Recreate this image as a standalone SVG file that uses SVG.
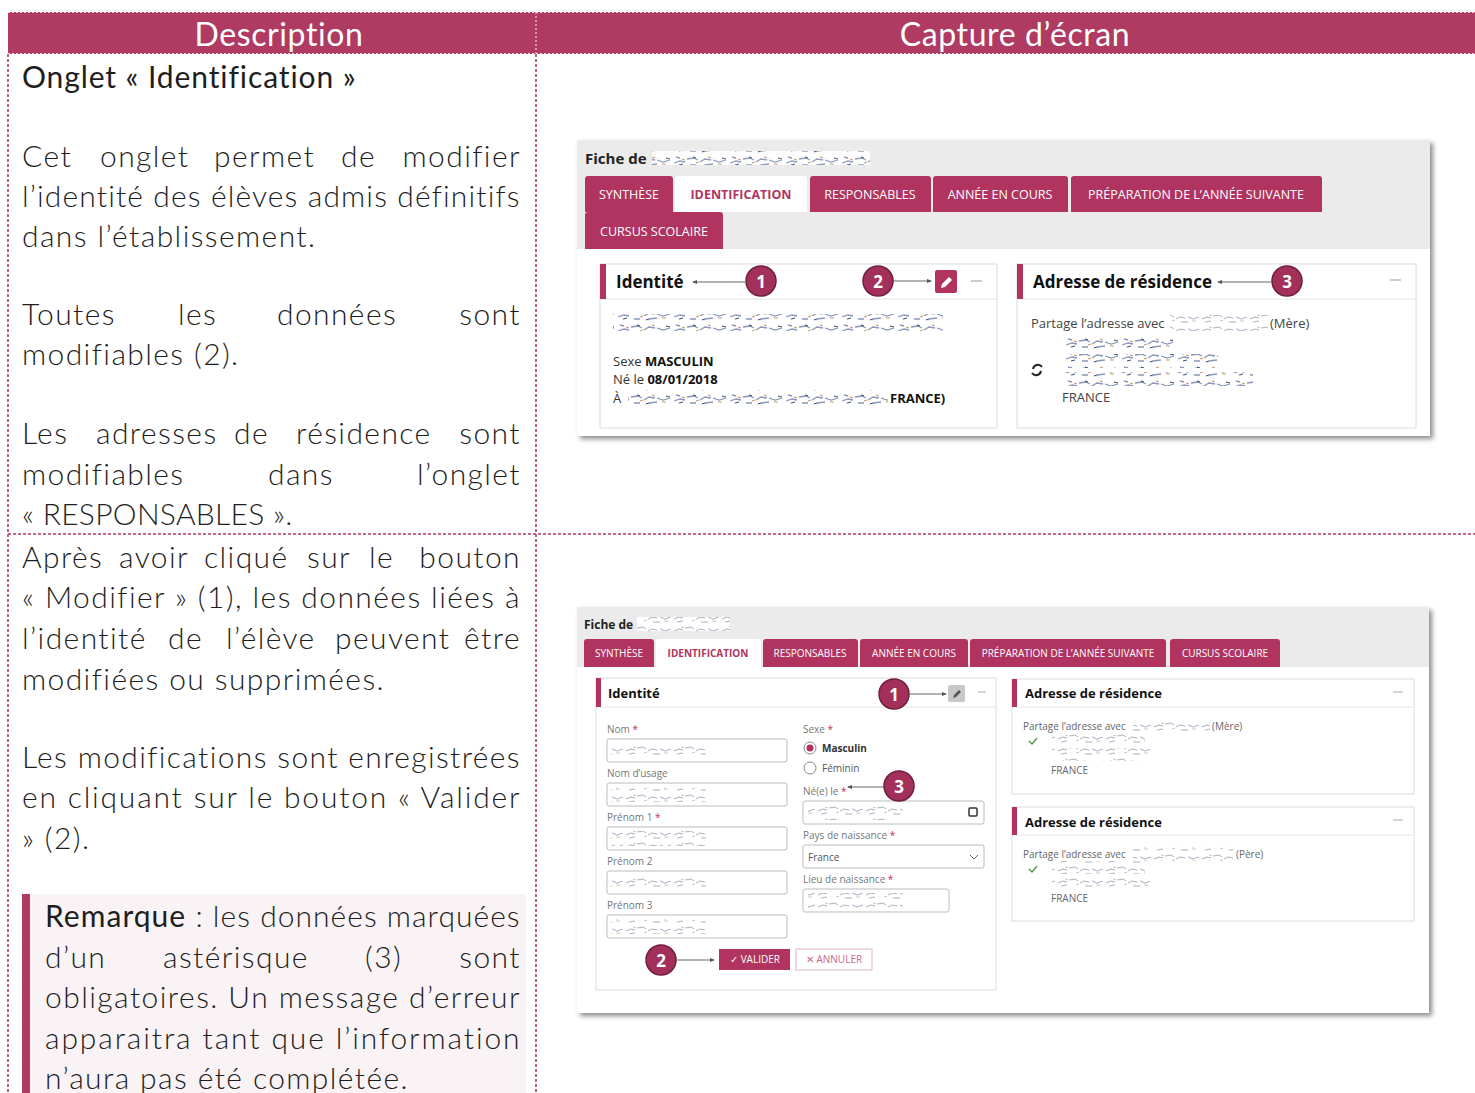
<svg xmlns="http://www.w3.org/2000/svg" width="1475" height="1093" viewBox="0 0 1475 1093">
<defs>
<style>
.desc{font-family:Lato,"Liberation Sans",sans-serif;font-weight:300;font-size:30px;fill:#1e1e1e;letter-spacing:1.4px}
.hdr{font-family:Lato,"Liberation Sans",sans-serif;font-size:32px;fill:#fff;letter-spacing:0.6px}
.ui{font-family:"Open Sans","Liberation Sans",sans-serif}
.tab{font-family:"Open Sans","Liberation Sans",sans-serif;font-size:12.5px;fill:#fff}
.tab2{font-family:"Open Sans","Liberation Sans",sans-serif;font-size:10px;fill:#fff}
.tabsel{fill:#b0345f;font-weight:bold}
.dash{stroke:#b03a64;stroke-width:1.6;stroke-dasharray:3 2;fill:none}
.card{fill:#fff;stroke:#dcdcdc;stroke-width:1}
.num{fill:#a3305a;stroke:#6f1f3d;stroke-width:1.5}
.numt{font-family:"Open Sans","Liberation Sans",sans-serif;font-weight:bold;fill:#fff;text-anchor:middle}
.conn{stroke:#666;stroke-width:1;fill:none}
.lbl{font-family:"Open Sans","Liberation Sans",sans-serif;font-size:10px;fill:#777}
.inp{fill:#fff;stroke:#bbb;stroke-width:1}
.ast{fill:#c0305a}
</style>
<marker id="ah" viewBox="0 0 6 6" refX="5" refY="3" markerWidth="5" markerHeight="5" orient="auto">
<path d="M0,0.5 L6,3 L0,5.5 Z" fill="#555"/>
</marker>
<pattern id="blur" width="56" height="14" patternUnits="userSpaceOnUse">
<rect width="56" height="14" fill="#fff"/>
<path d="M2,9 l6,-2 l5,1 M15,5 l7,-1 l4,2 M28,8 l5,-3 l6,1 M41,6 l6,2 l7,-2 M4,3 l4,1 M33,11 l8,-1 M18,11 l6,0" stroke="#8796b8" stroke-width="1.3" fill="none"/>
<path d="M10,5 l3,1 M24,9 l3,-1 M46,10 l4,0 M36,3 l3,1" stroke="#c99a6e" stroke-width="1.1" fill="none"/>
<path d="M7,11 l4,-1 M21,3 l3,1 M50,4 l4,1 M30,12 l3,-1" stroke="#3f4e72" stroke-width="1.1" fill="none"/>
</pattern>
<pattern id="blur2" width="48" height="12" patternUnits="userSpaceOnUse">
<rect width="48" height="12" fill="#fff"/>
<path d="M2,7 l5,-2 l4,1 M13,4 l6,-1 l3,2 M24,7 l4,-2 l5,1 M36,5 l5,2 l6,-2 M5,10 l6,-1 M29,10 l7,0" stroke="#a9b0c2" stroke-width="1" fill="none"/>
<path d="M9,3 l3,1 M20,9 l3,-1 M40,9 l4,0" stroke="#d2b9a0" stroke-width="0.9" fill="none"/>
</pattern>
<filter id="sh" x="-5%" y="-5%" width="110%" height="115%">
<feDropShadow dx="3" dy="3" stdDeviation="2.5" flood-color="#000" flood-opacity="0.45"/>
</filter>
</defs>

<rect width="1475" height="1093" fill="#fff"/>

<!-- table frame -->
<g id="table">
<rect x="8" y="12" width="1467" height="42" fill="#af3a62"/>
<line x1="8" y1="12.5" x2="1475" y2="12.5" stroke="#f0d6df" stroke-width="1.2" stroke-dasharray="2 2"/>
<line x1="8" y1="53.5" x2="1475" y2="53.5" stroke="#f0d6df" stroke-width="1.2" stroke-dasharray="2 2"/>
<line x1="536" y1="12" x2="536" y2="54" stroke="#f0d6df" stroke-width="1.2" stroke-dasharray="2 2"/>
<line class="dash" x1="8" y1="54" x2="8" y2="1093"/>
<line class="dash" x1="536" y1="54" x2="536" y2="1093"/>
<line class="dash" x1="8" y1="534" x2="1475" y2="534"/>
<text class="hdr" x="279" y="46" text-anchor="middle">Description</text>
<text class="hdr" x="1015" y="46" text-anchor="middle">Capture d’écran</text>
</g>

<!-- description row 1 -->
<g id="desc1" class="desc">
<text x="22" y="88" style="font-weight:400;letter-spacing:0.9px">Onglet « Identification »</text>
<text y="167"><tspan x="22">Cet</tspan><tspan x="100">onglet</tspan><tspan x="214">permet</tspan><tspan x="341">de</tspan><tspan x="521" text-anchor="end">modifier</tspan></text>
<text x="22" y="207" textLength="499" lengthAdjust="spacing">l’identité des élèves admis définitifs</text>
<text x="22" y="247">dans l’établissement.</text>
<text y="325"><tspan x="22">Toutes</tspan><tspan x="178">les</tspan><tspan x="277">données</tspan><tspan x="521" text-anchor="end">sont</tspan></text>
<text x="22" y="365">modifiables (2).</text>
<text y="444"><tspan x="22">Les</tspan><tspan x="96">adresses</tspan><tspan x="234">de</tspan><tspan x="296">résidence</tspan><tspan x="521" text-anchor="end">sont</tspan></text>
<text y="485"><tspan x="22">modifiables</tspan><tspan x="268">dans</tspan><tspan x="521" text-anchor="end">l’onglet</tspan></text>
<text x="22" y="525" style="letter-spacing:0.3px">« RESPONSABLES ».</text>
</g>

<!-- description row 2 -->
<g id="desc2" class="desc">
<text y="568"><tspan x="22">Après</tspan><tspan x="119">avoir</tspan><tspan x="204">cliqué</tspan><tspan x="307">sur</tspan><tspan x="369">le</tspan><tspan x="521" text-anchor="end">bouton</tspan></text>
<text x="22" y="608" textLength="499" lengthAdjust="spacing">« Modifier » (1), les données liées à</text>
<text y="649"><tspan x="22">l’identité</tspan><tspan x="168">de</tspan><tspan x="226">l’élève</tspan><tspan x="335">peuvent</tspan><tspan x="521" text-anchor="end">être</tspan></text>
<text x="22" y="690">modifiées ou supprimées.</text>
<text x="22" y="768" textLength="499" lengthAdjust="spacing">Les modifications sont enregistrées</text>
<text x="22" y="808" textLength="499" lengthAdjust="spacing">en cliquant sur le bouton « Valider</text>
<text x="22" y="849">» (2).</text>
</g>

<g id="remarque">
<rect x="30" y="894" width="496" height="199" fill="#f9f3f5"/>
<rect x="22" y="894" width="8" height="199" fill="#af3a62"/>
<g class="desc">
<text x="45" y="927" textLength="476" lengthAdjust="spacing"><tspan style="font-weight:400">Remarque</tspan> : les données marquées</text>
<text y="968"><tspan x="45">d’un</tspan><tspan x="163">astérisque</tspan><tspan x="365">(3)</tspan><tspan x="521" text-anchor="end">sont</tspan></text>
<text x="45" y="1008" textLength="476" lengthAdjust="spacing">obligatoires. Un message d’erreur</text>
<text x="45" y="1049" textLength="476" lengthAdjust="spacing">apparaitra tant que l’information</text>
<text x="45" y="1089">n’aura pas été complétée.</text>
</g>
</g>

<!-- screenshot 1 -->
<g id="shot1">
<rect x="577" y="140" width="853" height="296" fill="#ebebeb" filter="url(#sh)"/>
<rect x="577" y="249" width="853" height="187" fill="#fff"/>
<text class="ui" x="585" y="164" font-size="15" font-weight="bold" fill="#222">Fiche de</text>
<rect x="652" y="151" width="218" height="14" fill="url(#blur)" opacity="0.9"/>
<g id="tabs1">
<path d="M585,212 V179 Q585,176 588,176 H670 Q673,176 673,179 V212 Z" fill="#b0345f"/>
<path d="M675,212 V179 Q675,176 678,176 H804 Q807,176 807,179 V212 Z" fill="#fff"/>
<path d="M810,212 V179 Q810,176 813,176 H928 Q931,176 931,179 V212 Z" fill="#b0345f"/>
<path d="M933,212 V179 Q933,176 936,176 H1065 Q1068,176 1068,179 V212 Z" fill="#b0345f"/>
<path d="M1071,212 V179 Q1071,176 1074,176 H1319 Q1322,176 1322,179 V212 Z" fill="#b0345f"/>
<path d="M585,249 V215 Q585,212 588,212 H720 Q723,212 723,215 V249 Z" fill="#b0345f"/>
<text class="tab" x="629" y="199" text-anchor="middle">SYNTHÈSE</text>
<text class="tab tabsel" x="741" y="199" text-anchor="middle">IDENTIFICATION</text>
<text class="tab" x="870" y="199" text-anchor="middle">RESPONSABLES</text>
<text class="tab" x="1000" y="199" text-anchor="middle">ANNÉE EN COURS</text>
<text class="tab" x="1196" y="199" text-anchor="middle">PRÉPARATION DE L’ANNÉE SUIVANTE</text>
<text class="tab" x="654" y="236" text-anchor="middle">CURSUS SCOLAIRE</text>
</g>
<g id="card-identite1">
<rect class="card" x="600" y="264" width="397" height="164"/>
<line x1="600" y1="299" x2="997" y2="299" stroke="#e2e2e2"/>
<rect x="600" y="264" width="6" height="35" fill="#b0345f"/>
<text class="ui" x="616" y="288" font-size="17" font-weight="bold" fill="#111">Identité</text>
<rect x="935" y="270" width="22" height="23" rx="2" fill="#b0345f"/>
<path d="M941,288 l1,-4 l7,-7 l3,3 l-7,7 z" fill="#fff"/>
<line x1="971" y1="281" x2="982" y2="281" stroke="#aaa" stroke-width="1.2"/>
<rect x="613" y="314" width="330" height="17" fill="url(#blur)"/>
<text class="ui" x="613" y="366" font-size="13" fill="#333">Sexe <tspan font-weight="bold" fill="#111">MASCULIN</tspan></text>
<text class="ui" x="613" y="384" font-size="13" fill="#333">Né le <tspan font-weight="bold" fill="#111">08/01/2018</tspan></text>
<text class="ui" x="613" y="403" font-size="13" fill="#333">À</text>
<rect x="628" y="390" width="260" height="17" fill="url(#blur)"/>
<text class="ui" x="890" y="403" font-size="13" font-weight="bold" fill="#111">FRANCE)</text>
</g>
<g id="card-adresse1">
<rect class="card" x="1017" y="264" width="399" height="164"/>
<line x1="1017" y1="299" x2="1416" y2="299" stroke="#e2e2e2"/>
<rect x="1017" y="264" width="6" height="35" fill="#b0345f"/>
<text class="ui" x="1033" y="288" font-size="17" font-weight="bold" fill="#111">Adresse de résidence</text>
<line x1="1390" y1="280" x2="1401" y2="280" stroke="#aaa" stroke-width="1.2"/>
<text class="ui" x="1031" y="328" font-size="13" fill="#444">Partage l’adresse avec</text>
<rect x="1170" y="315" width="98" height="16" fill="url(#blur2)"/>
<text class="ui" x="1270" y="328" font-size="13" fill="#444">(Mère)</text>
<rect x="1063" y="336" width="110" height="14" fill="url(#blur)"/>
<rect x="1063" y="354" width="155" height="14" fill="url(#blur)"/>
<rect x="1063" y="372" width="190" height="14" fill="url(#blur)"/>
<path d="M1042,367 a5,5 0 0 0 -9,2" stroke="#222" stroke-width="2" fill="none"/>
<path d="M1032,373 a5,5 0 0 0 9,-2" stroke="#222" stroke-width="2" fill="none"/>
<text class="ui" x="1062" y="402" font-size="13" fill="#444">FRANCE</text>
</g>
</g>

<!-- screenshot 2 -->
<g id="shot2">
<rect x="577" y="607" width="852" height="406" fill="#ebebeb" filter="url(#sh)"/>
<rect x="577" y="667" width="852" height="346" fill="#fff"/>
<text class="ui" x="584" y="629" font-size="12" font-weight="bold" fill="#222">Fiche de</text>
<rect x="637" y="617" width="93" height="14" fill="url(#blur2)"/>
<g id="tabs2">
<path d="M584,667 V642 Q584,639 587,639 H651 Q654,639 654,642 V667 Z" fill="#b0345f"/>
<path d="M656,667 V642 Q656,639 659,639 H758 Q761,639 761,642 V667 Z" fill="#fff"/>
<path d="M763,667 V642 Q763,639 766,639 H855 Q858,639 858,642 V667 Z" fill="#b0345f"/>
<path d="M860,667 V642 Q860,639 863,639 H965 Q968,639 968,642 V667 Z" fill="#b0345f"/>
<path d="M970,667 V642 Q970,639 973,639 H1163 Q1166,639 1166,642 V667 Z" fill="#b0345f"/>
<path d="M1170,667 V642 Q1170,639 1173,639 H1277 Q1280,639 1280,642 V667 Z" fill="#b0345f"/>
<text class="tab2" x="619" y="657" text-anchor="middle">SYNTHÈSE</text>
<text class="tab2 tabsel" x="708" y="657" text-anchor="middle">IDENTIFICATION</text>
<text class="tab2" x="810" y="657" text-anchor="middle">RESPONSABLES</text>
<text class="tab2" x="914" y="657" text-anchor="middle">ANNÉE EN COURS</text>
<text class="tab2" x="1068" y="657" text-anchor="middle">PRÉPARATION DE L’ANNÉE SUIVANTE</text>
<text class="tab2" x="1225" y="657" text-anchor="middle">CURSUS SCOLAIRE</text>
</g>
<g id="card-identite2">
<rect class="card" x="596" y="678" width="400" height="312"/>
<line x1="596" y1="707" x2="996" y2="707" stroke="#e6e6e6"/>
<rect x="596" y="678" width="5" height="29" fill="#b0345f"/>
<text class="ui" x="608" y="698" font-size="13" font-weight="bold" fill="#111">Identité</text>
<rect x="948" y="685" width="17" height="17" rx="2" fill="#c8c8c8"/>
<path d="M953,698 l1,-3 l5,-5 l2,2 l-5,5 z" fill="#555"/>
<line x1="978" y1="692" x2="986" y2="692" stroke="#aaa"/>
<g class="lbl">
<text x="607" y="733">Nom <tspan class="ast">*</tspan></text>
<text x="607" y="777">Nom d’usage</text>
<text x="607" y="821">Prénom 1 <tspan class="ast">*</tspan></text>
<text x="607" y="865">Prénom 2</text>
<text x="607" y="909">Prénom 3</text>
<text x="803" y="733">Sexe <tspan class="ast">*</tspan></text>
<text x="803" y="795">Né(e) le <tspan class="ast">*</tspan></text>
<text x="803" y="839">Pays de naissance <tspan class="ast">*</tspan></text>
<text x="803" y="883">Lieu de naissance <tspan class="ast">*</tspan></text>
</g>
<rect class="inp" x="607" y="739" width="180" height="23" rx="2"/>
<rect class="inp" x="607" y="783" width="180" height="23" rx="2"/>
<rect class="inp" x="607" y="827" width="180" height="23" rx="2"/>
<rect class="inp" x="607" y="871" width="180" height="23" rx="2"/>
<rect class="inp" x="607" y="915" width="180" height="23" rx="2"/>
<rect x="611" y="743" width="95" height="15" fill="url(#blur2)"/>
<rect x="611" y="787" width="95" height="15" fill="url(#blur2)"/>
<rect x="611" y="831" width="95" height="15" fill="url(#blur2)"/>
<rect x="611" y="875" width="95" height="15" fill="url(#blur2)"/>
<rect x="611" y="919" width="95" height="15" fill="url(#blur2)"/>
<circle cx="810" cy="748" r="6" fill="#fff" stroke="#888"/>
<circle cx="810" cy="748" r="3.5" fill="#b0345f"/>
<text class="ui" x="822" y="752" font-size="10" font-weight="bold" fill="#333">Masculin</text>
<circle cx="810" cy="768" r="6" fill="#fff" stroke="#888"/>
<text class="ui" x="822" y="772" font-size="10" fill="#555">Féminin</text>
<rect class="inp" x="803" y="801" width="181" height="23" rx="2"/>
<rect x="808" y="805" width="95" height="15" fill="url(#blur2)"/>
<rect x="969" y="808" width="8" height="8" rx="1" fill="none" stroke="#333" stroke-width="1.5"/>
<rect class="inp" x="803" y="845" width="181" height="23" rx="2"/>
<text class="ui" x="808" y="861" font-size="10" fill="#555">France</text>
<path d="M970,855 l4,4 l4,-4" stroke="#666" fill="none"/>
<rect class="inp" x="803" y="889" width="146" height="23" rx="2"/>
<rect x="808" y="893" width="95" height="15" fill="url(#blur2)"/>
<rect x="719" y="949" width="71" height="21" fill="#b0345f"/>
<text class="ui" x="755" y="963" font-size="10" fill="#fff" text-anchor="middle">✓ VALIDER</text>
<rect x="796" y="949" width="76" height="21" fill="#fff" stroke="#e3b3c3"/>
<text class="ui" x="834" y="963" font-size="10" fill="#c56a88" text-anchor="middle">✕ ANNULER</text>
</g>
<g id="card-adresse2a">
<rect class="card" x="1012" y="679" width="402" height="115"/>
<line x1="1012" y1="707" x2="1414" y2="707" stroke="#e6e6e6"/>
<rect x="1012" y="679" width="5" height="28" fill="#b0345f"/>
<text class="ui" x="1025" y="698" font-size="13" font-weight="bold" fill="#111">Adresse de résidence</text>
<line x1="1393" y1="692" x2="1403" y2="692" stroke="#aaa"/>
<text class="ui" x="1023" y="730" font-size="10" fill="#666">Partage l’adresse avec</text>
<rect x="1133" y="719" width="77" height="14" fill="url(#blur2)"/>
<text class="ui" x="1212" y="730" font-size="10" fill="#666">(Mère)</text>
<path d="M1029,741 l3,3 l5,-6" stroke="#4a9a4a" stroke-width="1.3" fill="none"/>
<rect x="1052" y="733" width="93" height="13" fill="url(#blur2)"/>
<rect x="1052" y="748" width="98" height="13" fill="url(#blur2)"/>
<text class="ui" x="1051" y="774" font-size="10" fill="#666">FRANCE</text>
</g>
<g id="card-adresse2b">
<rect class="card" x="1012" y="807" width="402" height="114"/>
<line x1="1012" y1="835" x2="1414" y2="835" stroke="#e6e6e6"/>
<rect x="1012" y="807" width="5" height="28" fill="#b0345f"/>
<text class="ui" x="1025" y="827" font-size="13" font-weight="bold" fill="#111">Adresse de résidence</text>
<line x1="1393" y1="820" x2="1403" y2="820" stroke="#aaa"/>
<text class="ui" x="1023" y="858" font-size="10" fill="#666">Partage l’adresse avec</text>
<rect x="1133" y="847" width="100" height="14" fill="url(#blur2)"/>
<text class="ui" x="1236" y="858" font-size="10" fill="#666">(Père)</text>
<path d="M1029,869 l3,3 l5,-6" stroke="#4a9a4a" stroke-width="1.3" fill="none"/>
<rect x="1052" y="861" width="93" height="13" fill="url(#blur2)"/>
<rect x="1052" y="876" width="98" height="13" fill="url(#blur2)"/>
<text class="ui" x="1051" y="902" font-size="10" fill="#666">FRANCE</text>
</g>
</g>

<!-- connectors -->
<g id="connectors">
<line class="conn" x1="745" y1="282" x2="693" y2="282" marker-end="url(#ah)"/>
<line class="conn" x1="893" y1="281" x2="931" y2="281" marker-end="url(#ah)"/>
<line class="conn" x1="1271" y1="282" x2="1218" y2="282" marker-end="url(#ah)"/>
<line class="conn" x1="910" y1="694" x2="946" y2="694" marker-end="url(#ah)"/>
<line class="conn" x1="884" y1="787" x2="848" y2="787" marker-end="url(#ah)"/>
<line class="conn" x1="677" y1="960" x2="714" y2="960" marker-end="url(#ah)"/>
</g>

<!-- numbered badges -->
<g id="badge-1a"><circle class="num" cx="761" cy="281" r="15"/><text class="numt" x="761" y="288" font-size="17">1</text></g>
<g id="badge-2a"><circle class="num" cx="878" cy="281" r="15"/><text class="numt" x="878" y="288" font-size="17">2</text></g>
<g id="badge-3a"><circle class="num" cx="1287" cy="281" r="15"/><text class="numt" x="1287" y="288" font-size="17">3</text></g>
<g id="badge-1b"><circle class="num" cx="894" cy="694" r="15"/><text class="numt" x="894" y="701" font-size="17">1</text></g>
<g id="badge-3b"><circle class="num" cx="899" cy="786" r="15"/><text class="numt" x="899" y="793" font-size="17">3</text></g>
<g id="badge-2b"><circle class="num" cx="661" cy="960" r="15"/><text class="numt" x="661" y="967" font-size="17">2</text></g>
</svg>
